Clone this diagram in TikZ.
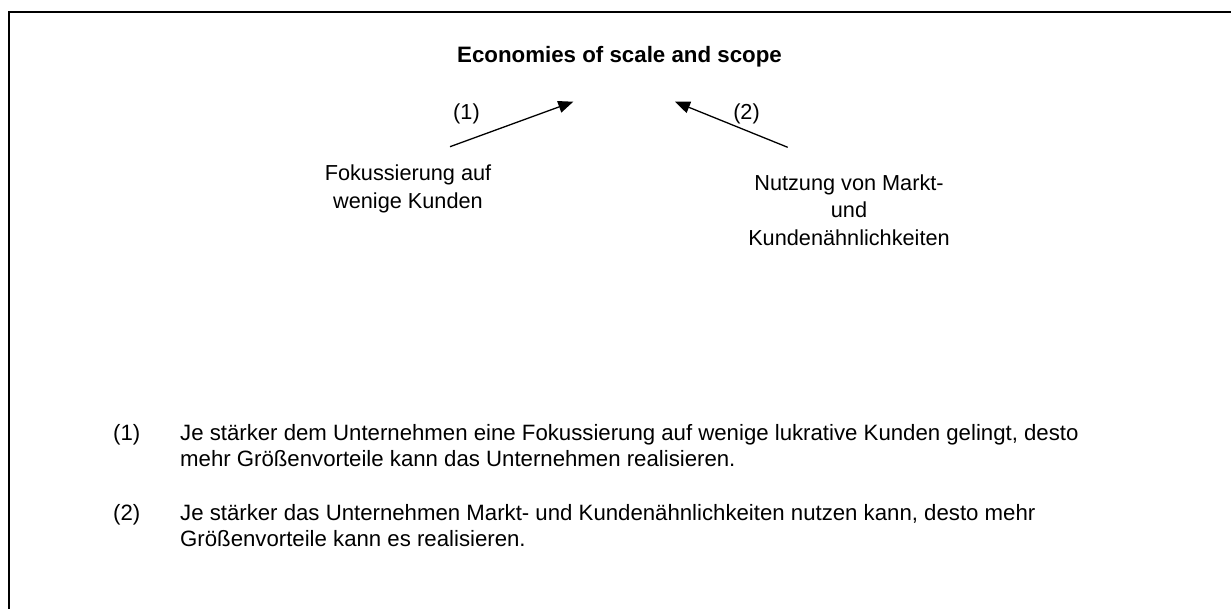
\documentclass[tikz,border=0pt]{standalone}
\usepackage{fontspec}
\setmainfont{Liberation Sans}
\usetikzlibrary{arrows.meta}
\tikzstyle{txt} = [inner sep=0pt, font=\fontsize{21.7}{27.5}\selectfont]
\tikzstyle{absatz} = [inner sep=0pt, anchor=base west, align=left, font=\fontsize{22.2}{26}\selectfont]
\tikzstyle{pfeil} = [line width=1.3pt, -{Triangle[length=15pt,width=12pt]}]

\begin{document}
\begin{tikzpicture}[x=1pt,y=-1pt]
  \useasboundingbox (0,0) rectangle (1231,608);
  \draw[line width=1.6pt] (9,12) rectangle (1260,640);

  \node[txt,anchor=base,font=\bfseries\fontsize{22.3}{24}\selectfont] (title) at (619.5,62) {Economies of scale and scope};

  \coordinate (s1) at (450,146.7);
  \coordinate (e1) at (573.3,101.7);
  \coordinate (s2) at (787.7,147.3);
  \coordinate (e2) at (675,101.7);
  \draw[pfeil] (s1) -- (e1);
  \draw[pfeil] (s2) -- (e2);
  \node[txt,anchor=base] (n1) at (466.5,119.5) {(1)};
  \node[txt,anchor=base] (n2) at (746.5,119.5) {(2)};

  % anchor=base sitzt auf der letzten Zeile
  \node[txt,anchor=base,align=center] (fok) at (408,208) {Fokussierung auf\\wenige Kunden};
  \node[txt,anchor=base,align=center] (nutz) at (849,245) {Nutzung von Markt-\\und\\Kundenähnlichkeiten};

  \node[absatz] (p1) at (113,440) {(1)};
  \node[absatz] (t1) at (180,466)
    {Je stärker dem Unternehmen eine Fokussierung auf wenige lukrative Kunden gelingt, desto\\mehr Größenvorteile kann das Unternehmen realisieren.};
  \node[absatz] (p2) at (113,520) {(2)};
  \node[absatz] (t2) at (180,546)
    {Je stärker das Unternehmen Markt- und Kundenähnlichkeiten nutzen kann, desto mehr\\Größenvorteile kann es realisieren.};
\end{tikzpicture}
\end{document}
